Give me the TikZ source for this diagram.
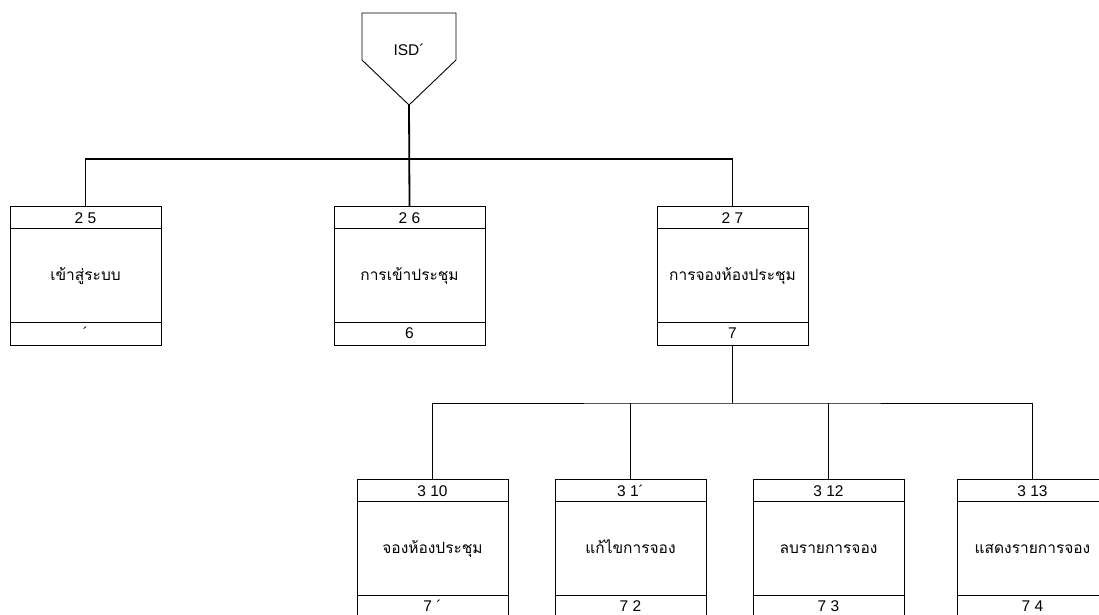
\documentclass[tikz,border=0pt]{standalone}
\usepackage{fontspec}
\setmainfont{Liberation Sans}
\newfontfamily\thaifont[Script=Thai]{Loma}
\begin{document}
\begin{tikzpicture}[x=1pt,y=-1pt,
  every node/.style={inner sep=0pt, outer sep=0pt},
  procbox/.style={draw, line width=0.9pt, minimum width=151pt, minimum height=139pt},
  numtext/.style={font=\fontsize{15.5}{16}\selectfont, anchor=base},
  titletext/.style={font=\thaifont\fontsize{15.5}{17}\selectfont, anchor=base},
  mainlink/.style={line width=1.8pt},
  sublink/.style={line width=0.8pt},
  shapeline/.style={line width=0.9pt, line join=miter}
]
\useasboundingbox (0,0) rectangle (1099,615);

% off-page connector holding the diagram name
\draw[shapeline] (362,13) -- (456,13) -- (456,60) -- (409,105) -- (362,60) -- cycle;
\node[numtext] (isd) at (409,56) {ISD´};
\coordinate (tip) at (409,105);

% a process box: name, centre x, top y, number, title, footer
\newcommand{\procentry}[6]{%
  \node[procbox, anchor=north] (#1) at (#2,#3) {};
  \draw[line width=0.9pt] ([yshift=-22pt]#1.north west) -- ([yshift=-22pt]#1.north east);
  \draw[line width=0.9pt] ([yshift=23pt]#1.south west) -- ([yshift=23pt]#1.south east);
  \node[numtext] (#1-num) at ([yshift=-17.5pt]#1.north) {#4};
  \node[titletext] (#1-title) at ([yshift=-74pt]#1.north) {#5};
  \node[numtext] (#1-foot) at ([yshift=6.5pt]#1.south) {#6};
}

% first level
\procentry{b25}{85.5}{206}{2 5}{เข้าสู่ระบบ}{´}
\procentry{b26}{409.5}{206}{2 6}{การเข้าประชุม}{6}
\procentry{b27}{732.5}{206}{2 7}{การจองห้องประชุม}{7}

% second level
\procentry{b310}{432.5}{479}{3 10}{จองห้องประชุม}{7 ´}
\procentry{b311}{630.5}{479}{3 1´}{แก้ไขการจอง}{7 2}
\procentry{b312}{828.5}{479}{3 12}{ลบรายการจอง}{7 3}
\procentry{b313}{1032.5}{479}{3 13}{แสดงรายการจอง}{7 4}

% first-level tree
\coordinate (bus) at (409.5,159);
\draw[mainlink] (tip) -- (b26.north);
\draw[mainlink] (b25.north) |- (bus) -| (b27.north);

% second-level tree
\coordinate (bus2) at (732.5,403);
\draw[sublink] (b27.south) -- (bus2);
\draw[sublink] (b310.north) |- (bus2) -| (b313.north);
\draw[sublink] (b311.north) -- (b311.north |- bus2);
\draw[sublink] (b312.north) -- (b312.north |- bus2);
\end{tikzpicture}
\end{document}
